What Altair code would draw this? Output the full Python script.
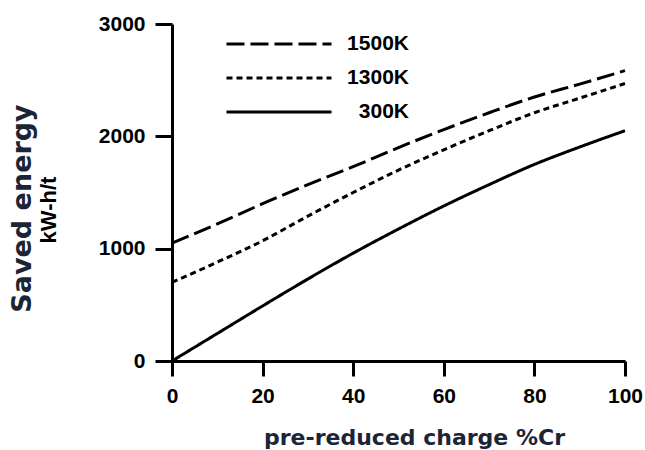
import altair as alt
import pandas as pd

# ---- data ----
charge = [0, 10, 20, 30, 40, 50, 60, 70, 80, 90, 100]
energy_1500 = [1050, 1220, 1400, 1570, 1730, 1900, 2060, 2210, 2350, 2465, 2585]
energy_1300 = [700, 880, 1070, 1290, 1500, 1700, 1880, 2050, 2210, 2340, 2470]
energy_300 = [0, 245, 490, 730, 960, 1175, 1380, 1570, 1750, 1905, 2050]
series = ["1500K", "1300K", "300K"]
x_ticks = [0, 20, 40, 60, 80, 100]
y_ticks = [0, 1000, 2000, 3000]

dash_styles = [[18, 6], [6, 4], [1, 0]]

rows = []
for name, vals in zip(series, [energy_1500, energy_1300, energy_300]):
    for x, v in zip(charge, vals):
        rows.append({"charge": x, "energy": v, "series": name})
df = pd.DataFrame(rows)

W, H = 453, 337
LEFT, TOP = 172, 24
INK = "#000000"
TITLE_INK = "#1c2536"
X_TICK_LEN, Y_TICK_LEN = 15, 17

x_scale = alt.Scale(domain=[0, 100], nice=False, zero=False)
y_scale = alt.Scale(domain=[0, 3000], nice=False)

lines = alt.Chart(df).mark_line(
    strokeWidth=3, color=INK, interpolate="monotone"
).encode(
    x=alt.X(
        "charge:Q",
        scale=x_scale,
        axis=alt.Axis(
            values=x_ticks,
            format="d",
            title="pre-reduced charge  %Cr",
            titleFont="DejaVu Sans",
            titleFontWeight="bold",
            titleFontSize=22,
            titleColor=TITLE_INK,
            titleX=242,
            titleY=76,
            titleBaseline="middle",
            titleAlign="center",
            labelFont="Liberation Sans",
            labelFontWeight="bold",
            labelFontSize=21,
            labelColor=INK,
            labelPadding=9,
            labelFlush=False,
            labelOverlap=False,
            ticks=True,
            tickSize=X_TICK_LEN,
            tickWidth=3,
            tickColor=INK,
            domainColor=INK,
            domainWidth=3,
            grid=False,
        ),
    ),
    y=alt.Y(
        "energy:Q",
        scale=y_scale,
        axis=alt.Axis(
            values=y_ticks,
            format="d",
            title="Saved energy",
            titleFont="DejaVu Sans",
            titleFontWeight="bold",
            titleFontSize=27,
            titleColor=TITLE_INK,
            titleAngle=270,
            titleX=-150,
            titleY=184,
            titleBaseline="middle",
            titleAlign="center",
            labelFont="Liberation Sans",
            labelFontWeight="bold",
            labelFontSize=21,
            labelColor=INK,
            labelPadding=10,
            labelFlush=False,
            labelOverlap=False,
            ticks=True,
            tickSize=Y_TICK_LEN,
            tickWidth=3,
            tickColor=INK,
            domainColor=INK,
            domainWidth=3,
            grid=False,
        ),
    ),
    strokeDash=alt.StrokeDash(
        "series:N",
        scale=alt.Scale(domain=series, range=dash_styles),
        legend=alt.Legend(
            title=None,
            orient="none",
            legendX=95,
            legendY=8,
            padding=0,
            symbolType="M-5,0H5",
            symbolSize=441,
            symbolStrokeWidth=3,
            symbolStrokeColor=INK,
            symbolFillColor="transparent",
            labelFont="Liberation Sans",
            labelFontWeight="bold",
            labelFontSize=21,
            labelColor=INK,
            labelAlign="right",
            labelOffset=118,
            rowPadding=12,
        ),
    ),
)

unit_label = alt.Chart(pd.DataFrame({"t": ["kW-h/t"]})).mark_text(
    angle=270,
    font="Liberation Sans",
    fontWeight="bold",
    fontSize=22,
    color=INK,
    baseline="middle",
    align="center",
).encode(
    x=alt.value(49 - LEFT),
    y=alt.value(210 - TOP),
    text="t:N",
)

chart = alt.layer(lines, unit_label).properties(
    width=W,
    height=H,
    autosize=alt.AutoSizeParams(type="none"),
    padding={"left": LEFT, "top": TOP, "right": 20, "bottom": 89},
    background="white",
).configure_view(stroke=None)

chart.save("out.html", embed_options={"renderer": "svg", "actions": False})
